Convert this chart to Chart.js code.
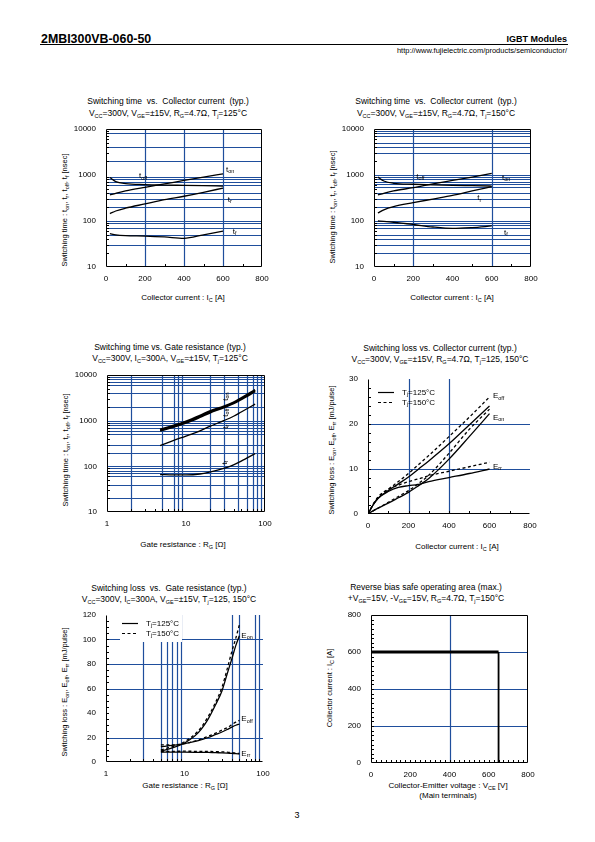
<!DOCTYPE html>
<html>
<head>
<meta charset="UTF-8">
<title>2MBI300VB-060-50</title>
<script src="https://cdn.jsdelivr.net/npm/chart.js"></script>
<style>
  body { margin: 0; width: 595px; height: 842px; position: relative; background: #fff; color: #000;
         font-family: "Liberation Sans", Arial, sans-serif; overflow: hidden; }
  .t { position: absolute; white-space: nowrap; }
  .ttl { font-size: 8.5px; text-align: center; transform: translateX(-50%); }
  .xt { font-size: 8px; line-height: 10px; text-align: center; transform: translateX(-50%); }
  .yt { font-size: 7.5px; line-height: 10px; transform: translate(-50%, -50%) rotate(-90deg); }
  sub { font-size: 5.5px; vertical-align: -1.5px; line-height: 0; }
  canvas { position: absolute; }
</style>
</head>
<body>
  <!-- page header -->
  <div class="t" style="left:41px; top:32.5px; font-size:12.4px; line-height:1; font-weight:bold;">2MBI300VB-060-50</div>
  <div class="t" style="right:28px; top:35.4px; font-size:9px; line-height:1; font-weight:bold;">IGBT Modules</div>
  <div style="position:absolute; left:40px; top:44px; width:528px; height:1px; background:#000;"></div>
  <div class="t" style="right:28px; top:46.6px; font-size:7.5px; line-height:1;">http://www.fujielectric.com/products/semiconductor/</div>
  <div class="t" style="left:294.5px; top:811px; font-size:9px; line-height:1;">3</div>

  <!-- titles -->
  <div class="t ttl" style="left:168px; top:95px; line-height:12.3px;">Switching time &nbsp;vs. &nbsp;Collector current &nbsp;(typ.)<br>V<sub>CC</sub>=300V, V<sub>GE</sub>=±15V, R<sub>G</sub>=4.7Ω, T<sub>j</sub>=125°C</div>
  <div class="t ttl" style="left:436px; top:95px; line-height:12.3px;">Switching time &nbsp;vs. &nbsp;Collector current &nbsp;(typ.)<br>V<sub>CC</sub>=300V, V<sub>GE</sub>=±15V, R<sub>G</sub>=4.7Ω, T<sub>j</sub>=150°C</div>
  <div class="t ttl" style="left:170px; top:342.4px; line-height:10.7px;">Switching time vs. Gate resistance (typ.)<br>V<sub>CC</sub>=300V, I<sub>C</sub>=300A, V<sub>GE</sub>=±15V, T<sub>j</sub>=125°C</div>
  <div class="t ttl" style="left:440px; top:343px; line-height:10.7px;">Switching loss vs. Collector current (typ.)<br>V<sub>CC</sub>=300V, V<sub>GE</sub>=±15V, R<sub>G</sub>=4.7Ω, T<sub>j</sub>=125, 150°C</div>
  <div class="t ttl" style="left:169px; top:583px; line-height:10.7px;">Switching loss &nbsp;vs. &nbsp;Gate resistance (typ.)<br>V<sub>CC</sub>=300V, I<sub>C</sub>=300A, V<sub>GE</sub>=±15V, T<sub>j</sub>=125, 150°C</div>
  <div class="t ttl" style="left:426px; top:582.4px; line-height:10.7px;">Reverse bias safe operating area (max.)<br>+V<sub>GE</sub>=15V, -V<sub>GE</sub>=15V, R<sub>G</sub>=4.7Ω, T<sub>j</sub>=150°C</div>

  <!-- axis titles -->
  <div class="t yt" style="left:65px; top:210px;">Switching time : t<sub>on</sub>, t<sub>r</sub>, t<sub>off</sub>, t<sub>f</sub> [nsec]</div>
  <div class="t yt" style="left:333px; top:207px;">Switching time : t<sub>on</sub>, t<sub>r</sub>, t<sub>off</sub>, t<sub>f</sub> [nsec]</div>
  <div class="t yt" style="left:66px; top:450px;">Switching time : t<sub>on</sub>, t<sub>r</sub>, t<sub>off</sub>, t<sub>f</sub> [nsec]</div>
  <div class="t yt" style="left:332px; top:450px;">Switching loss : E<sub>on</sub>, E<sub>off</sub>, E<sub>rr</sub> [mJ/pulse]</div>
  <div class="t yt" style="left:65px; top:692px;">Switching loss : E<sub>on</sub>, E<sub>off</sub>, E<sub>rr</sub> [mJ/pulse]</div>
  <div class="t yt" style="left:330px; top:688px;">Collector current : I<sub>C</sub> [A]</div>

  <div class="t xt" style="left:183px; top:293px;">Collector current : I<sub>C</sub> [A]</div>
  <div class="t xt" style="left:452px; top:293px;">Collector current : I<sub>C</sub> [A]</div>
  <div class="t xt" style="left:183px; top:540px;">Gate resistance : R<sub>G</sub> [Ω]</div>
  <div class="t xt" style="left:457px; top:541.5px;">Collector current : I<sub>C</sub> [A]</div>
  <div class="t xt" style="left:185px; top:780.5px;">Gate resistance : R<sub>G</sub> [Ω]</div>
  <div class="t xt" style="left:448px; top:780.5px;">Collector-Emitter voltage : V<sub>CE</sub> [V]<br>(Main terminals)</div>

<script>
// ---- tick labels ----
const yTicksTime = [10, 100, 1000, 10000];
const xTicksIc = [0, 200, 400, 600, 800];
const xTicksRg = [1, 10, 100];
const yTicksLoss = [0, 10, 20, 30];
const yTicksLossRg = [0, 20, 40, 60, 80, 100, 120];
const xTicksVce = [0, 200, 400, 600, 800];
const yTicksSoa = [0, 200, 400, 600, 800];

// ---- 1: switching time vs Ic, Tj=125C ----
const ic1 = [20, 50, 100, 200, 300, 400, 500, 600];
const ton1 = [370, 400, 450, 540, 640, 760, 900, 1060];
const tr1 = [145, 165, 190, 235, 290, 345, 420, 520];
const toff1 = [880, 720, 650, 620, 605, 595, 585, 575];
const tf1 = [53, 50, 48, 47, 45, 42, 50, 60];

// ---- 2: switching time vs Ic, Tj=150C ----
const ic2 = [20, 50, 100, 200, 300, 400, 500, 600];
const ton2 = [370, 400, 450, 530, 640, 760, 900, 1080];
const tr2 = [150, 175, 205, 250, 300, 360, 450, 560];
const toff2 = [900, 740, 660, 630, 610, 595, 585, 575];
const tf2 = [100, 98, 94, 84, 74, 69, 72, 78];

// ---- 3: switching time vs Rg ----
const rg3 = [4.7, 7, 10, 15, 20, 30, 40, 50, 75];
const ton3 = [640, 780, 960, 1280, 1600, 2050, 2500, 3100, 4700];
const toff3 = [600, 740, 900, 1200, 1500, 1950, 2400, 2950, 4400];
const tr3 = [285, 370, 460, 600, 750, 1000, 1250, 1550, 2300];
const tf3 = [66, 65, 65, 68, 75, 90, 108, 130, 190];

// ---- 4: switching loss vs Ic ----
const ic4 = [0, 25, 50, 100, 150, 200, 250, 300, 400, 500, 600];
const eoff4a = [0, 2, 3.5, 5.2, 6.7, 8.2, 10, 11.8, 15.6, 19.8, 24];
const eon4a = [0, 0.7, 1.3, 2.4, 3.6, 4.8, 6.3, 7.9, 12.2, 17.2, 22.3];
const err4a = [0, 2, 3.5, 5, 5.9, 6.3, 6.6, 7.2, 8.1, 9, 10];
const eoff4b = [0, 2.1, 3.7, 5.5, 7.2, 9, 11, 13, 17.2, 21.5, 26];
const eon4b = [0, 0.7, 1.3, 2.6, 3.9, 5.2, 6.8, 8.6, 13.5, 18.8, 23.3];
const err4b = [0, 2.1, 3.8, 5.5, 6.4, 7.2, 7.8, 8.5, 9.5, 10.5, 11.5];

// ---- 5: switching loss vs Rg ----
const rg5 = [5, 7, 10, 15, 20, 25, 30, 35, 40, 45, 50];
const eon5a = [9, 11.5, 15.5, 24, 35, 47, 58, 72, 84, 95, 103];
const eon5b = [10, 12.5, 16.5, 25.5, 37, 49, 61, 76, 90, 101, 112];
const eoff5a = [12.5, 13.5, 15, 17.5, 20, 22.5, 24.5, 26.5, 28.5, 30, 31];
const eoff5b = [14, 14, 15, 18, 21, 23.5, 26, 28, 30.5, 32.5, 34];
const err5a = [8, 8, 8, 7.9, 7.8, 7.6, 7.5, 7.3, 7, 6.8, 6.5];
const err5b = [8.5, 8.7, 8.8, 8.7, 8.6, 8.5, 8.3, 8, 7.7, 7.3, 7];

// ---- 6: RBSOA ----
const soaV = [0, 650, 650];
const soaI = [600, 600, 0];

// blue grid lines as printed on the sheet
const grid1X = [200, 400, 600];
const grid1Y = [30, 50, 70, 90, 100, 200, 300, 400, 600, 700, 800, 900, 2000, 4000, 8000];
const grid2X = [200, 600];
const grid2Y = [20, 30, 40, 50, 70, 80, 90, 100, 200, 300, 400, 560, 640, 700, 800, 900, 1000, 3000, 4000, 5000, 7000, 8000, 9000];
const grid3X = [2, 5, 7, 8, 9, 20, 30, 45, 60, 70, 80, 90];
const grid3Y = [20, 40, 60, 70, 80, 90, 100, 200, 300, 500, 600, 700, 800, 900, 1000, 2000, 4000, 6000, 7000, 8000, 9000];
const grid4X = [200, 400];
const grid4Y = [10, 20];
const grid5X = [3, 5, 6, 7, 8, 9, 40, 50, 80, 90];
const grid5Y = [20, 60, 80, 100];
const grid6X = [400];
const grid6Y = [200, 400, 600];

const BLUE = '#1f4e9c';
const FONT = '"Liberation Sans", Arial, sans-serif';

function range(a, b, s) { const r = []; for (let v = a; v <= b + 1e-9; v += s) r.push(v); return r; }
function logMinor(lo, hi) {
  const r = [];
  for (let d = lo; d < hi; d *= 10) for (let k = 2; k <= 9; k++) r.push(d * k);
  return r;
}

// text with '_' runs as subscripts
function runs(ctx, x, y, parts, size) {
  let cx = x;
  parts.forEach(p => {
    const isSub = p[0] === '_';
    const s = isSub ? p.slice(1) : p;
    ctx.font = (isSub ? size * 0.68 : size) + 'px ' + FONT;
    ctx.fillText(s, cx, isSub ? y + 2 : y);
    cx += ctx.measureText(s).width;
  });
}

const sheet = {
  id: 'sheet',
  beforeDatasetsDraw(chart, args, o) {
    const { ctx, chartArea: a, scales: { x, y } } = chart;
    ctx.save();
    ctx.strokeStyle = BLUE;
    ctx.lineWidth = 1.2;
    ctx.beginPath();
    (o.xLines || []).forEach(v => {
      const p = Math.round(x.getPixelForValue(v)) + 0.5;
      ctx.moveTo(p, a.top); ctx.lineTo(p, a.bottom);
    });
    (o.yLines || []).forEach(v => {
      const p = Math.round(y.getPixelForValue(v)) + 0.5;
      ctx.moveTo(a.left, p); ctx.lineTo(a.right, p);
    });
    ctx.stroke();
    if (o.mask) {
      ctx.fillStyle = '#fff';
      ctx.fillRect(a.left + o.mask[0], a.top + o.mask[1], o.mask[2], o.mask[3]);
    }
    // small black ticks inside the axes
    ctx.strokeStyle = '#000';
    ctx.lineWidth = 1;
    ctx.beginPath();
    (o.xMinor || []).forEach(v => {
      const p = Math.round(x.getPixelForValue(v)) + 0.5;
      ctx.moveTo(p, a.bottom); ctx.lineTo(p, a.bottom - 3);
    });
    (o.yMinor || []).forEach(v => {
      const p = Math.round(y.getPixelForValue(v)) + 0.5;
      ctx.moveTo(a.left, p); ctx.lineTo(a.left + 3, p);
    });
    ctx.stroke();
    ctx.beginPath();
    const L = Math.round(a.left) + 0.5, B = Math.round(a.bottom) - 0.5;
    const R = Math.round(a.right) - 0.5, T = Math.round(a.top) + 0.5;
    ctx.moveTo(L, T); ctx.lineTo(L, B); ctx.lineTo(R, B);
    if (o.frame) { ctx.lineTo(R, T); ctx.lineTo(L, T); }
    ctx.stroke();
    ctx.restore();
  },
  afterDatasetsDraw(chart, args, o) {
    const { ctx, chartArea: a, scales: { x, y } } = chart;
    ctx.save();
    ctx.fillStyle = '#000';
    ctx.textBaseline = 'middle';
    ctx.textAlign = 'left';
    (o.labels || []).forEach(l => {
      const px = x.getPixelForValue(l.x), py = y.getPixelForValue(l.y);
      ctx.save();
      ctx.translate(px, py);
      if (l.rot) ctx.rotate(-Math.PI / 2);
      runs(ctx, 0, 0, l.t, 8);
      ctx.restore();
    });
    if (o.legend) {
      const g = o.legend;
      g.items.forEach((it, i) => {
        const ly = Math.round(a.top + g.y + i * g.gap) + 0.5;
        ctx.strokeStyle = '#000';
        ctx.lineWidth = 1.2;
        ctx.setLineDash(it.dash);
        ctx.beginPath();
        ctx.moveTo(a.left + g.x, ly); ctx.lineTo(a.left + g.x + 16, ly);
        ctx.stroke();
        ctx.setLineDash([]);
        runs(ctx, a.left + g.x + 24, ly, ['T', '_j', '=' + it.t + '°C'], 8);
      });
    }
    ctx.restore();
  }
};

function pts(xs, ys) { return xs.map((v, i) => ({ x: v, y: ys[i] })); }
function line(xs, ys, extra) {
  return Object.assign({
    data: pts(xs, ys), borderColor: '#000', borderWidth: 1.3, pointRadius: 0,
    cubicInterpolationMode: 'monotone', fill: false
  }, extra || {});
}
const DASH = { borderDash: [3, 2.5] };

function axis(type, min, max, ticks, isY) {
  return {
    type: type, min: min, max: max,
    grid: { display: false, drawTicks: false }, border: { display: false },
    afterBuildTicks: s => { s.ticks = ticks.map(v => ({ value: v })); },
    afterFit: s => {
      if (isY) s.width = 40; else s.height = 22;
      // keep the plot box fixed: no extra room for overhanging labels
      s.paddingTop = s.paddingBottom = s.paddingLeft = s.paddingRight = 0;
    },
    ticks: {
      color: '#000', font: { family: FONT, size: 8 }, padding: isY ? 10 : 7,
      autoSkip: false, maxRotation: 0, callback: v => String(v)
    }
  };
}

function makeChart(box, datasets, xs, ys, opts) {
  const c = document.createElement('canvas');
  c.width = 40 + box.w + 16;
  c.height = 8 + box.h + 22;
  c.style.left = (box.l - 40) + 'px';
  c.style.top = (box.t - 8) + 'px';
  document.body.appendChild(c);
  new Chart(c, {
    type: 'line',
    data: { datasets: datasets },
    options: {
      responsive: false, animation: false, events: [],
      layout: { padding: { left: 0, top: 8, right: 16, bottom: 0 } },
      plugins: { legend: { display: false }, tooltip: { enabled: false }, sheet: opts },
      scales: { x: xs, y: ys }
    },
    plugins: [sheet]
  });
}

// 1
makeChart({ l: 106, t: 129, w: 156, h: 138 },
  [line(ic1, ton1), line(ic1, tr1), line(ic1, toff1), line(ic1, tf1)],
  axis('linear', 0, 800, xTicksIc), axis('logarithmic', 10, 10000, yTicksTime, true),
  { frame: true, xLines: grid1X, yLines: grid1Y, xMinor: [100, 300, 500, 700], yMinor: logMinor(10, 10000),
    labels: [{ x: 615, y: 1320, t: ['t', '_on'] }, { x: 169, y: 950, t: ['t', '_off'] },
             { x: 624, y: 293, t: ['t', '_r'] }, { x: 650, y: 58, t: ['t', '_f'] }] });

// 2
makeChart({ l: 374, t: 129, w: 157, h: 138 },
  [line(ic2, ton2), line(ic2, tr2), line(ic2, toff2), line(ic2, tf2)],
  axis('linear', 0, 800, xTicksIc), axis('logarithmic', 10, 10000, yTicksTime, true),
  { frame: true, xLines: grid2X, yLines: grid2Y, xMinor: [100, 300, 500, 700], yMinor: logMinor(10, 10000),
    labels: [{ x: 215, y: 905, t: ['t', '_off'] }, { x: 652, y: 890, t: ['t', '_on'] },
             { x: 526, y: 316, t: ['t', '_r'] }, { x: 662, y: 55, t: ['t', '_f'] }] });

// 3
makeChart({ l: 107, t: 375, w: 158, h: 137 },
  [line(rg3, ton3, { borderWidth: 2.2 }), line(rg3, toff3, { borderWidth: 2.2 }), line(rg3, tr3), line(rg3, tf3)],
  axis('logarithmic', 1, 100, xTicksRg), axis('logarithmic', 10, 10000, yTicksTime, true),
  { frame: true, xLines: grid3X, yLines: grid3Y, xMinor: logMinor(1, 100), yMinor: logMinor(10, 10000),
    labels: [{ x: 32, y: 2720, t: ['t', '_on'], rot: true }, { x: 32, y: 1217, t: ['t', '_off'], rot: true },
             { x: 32, y: 667, t: ['t', '_r'], rot: true }, { x: 31, y: 109, t: ['t', '_f'], rot: true }] });

// 4
makeChart({ l: 368, t: 379, w: 162, h: 135 },
  [line(ic4, eoff4a), line(ic4, eon4a), line(ic4, err4a),
   line(ic4, eoff4b, DASH), line(ic4, eon4b, DASH), line(ic4, err4b, DASH)],
  axis('linear', 0, 800, xTicksIc), axis('linear', 0, 30, yTicksLoss, true),
  { frame: false, xLines: grid4X, yLines: grid4Y, xMinor: range(100, 700, 100), yMinor: range(2, 28, 2),
    legend: { x: 10, y: 13, gap: 9.5, items: [{ dash: [], t: '125' }, { dash: [3, 2.5], t: '150' }] },
    labels: [{ x: 617, y: 26.2, t: ['E', '_off'] }, { x: 617, y: 21.4, t: ['E', '_on'] },
             { x: 617, y: 10.5, t: ['E', '_rr'] }] });

// 5
makeChart({ l: 106, t: 615, w: 157, h: 147 },
  [line(rg5, eon5a), line(rg5, eoff5a), line(rg5, err5a),
   line(rg5, eon5b, DASH), line(rg5, eoff5b, DASH), line(rg5, err5b, DASH)],
  axis('logarithmic', 1, 100, xTicksRg), axis('linear', 0, 120, yTicksLossRg, true),
  { frame: false, xLines: grid5X, yLines: grid5Y, xMinor: logMinor(1, 100), yMinor: range(5, 115, 5),
    mask: [14, 0, 62, 27],
    legend: { x: 16, y: 8, gap: 10, items: [{ dash: [], t: '125' }, { dash: [3, 2.5], t: '150' }] },
    labels: [{ x: 53, y: 103, t: ['E', '_on'] }, { x: 53, y: 35, t: ['E', '_off'] },
             { x: 53, y: 7, t: ['E', '_rr'] }] });

// 6
makeChart({ l: 371, t: 615, w: 157, h: 148 },
  [line(soaV.slice(0, 2), soaI.slice(0, 2), { borderWidth: 3, cubicInterpolationMode: 'default' }),
   line(soaV.slice(1), soaI.slice(1), { borderWidth: 1.8, cubicInterpolationMode: 'default' })],
  axis('linear', 0, 800, xTicksVce), axis('linear', 0, 800, yTicksSoa, true),
  { frame: true, xLines: grid6X, yLines: grid6Y, xMinor: range(25, 775, 25), yMinor: range(25, 775, 25) });
</script>
</body>
</html>
